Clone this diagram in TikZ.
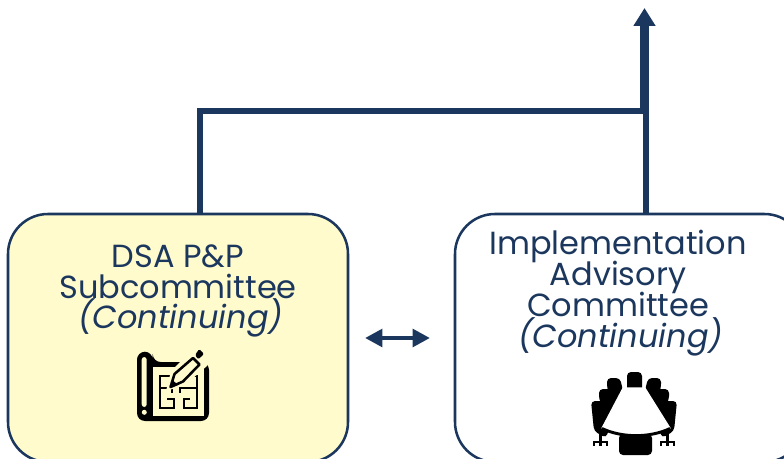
\documentclass[tikz,border=0pt]{standalone}
\usepackage{fontspec}
\setmainfont{Poppins}
\usetikzlibrary{arrows.meta}
\definecolor{navy}{HTML}{1C375E}
\definecolor{paleyellow}{HTML}{FFFBCD}
\setlength{\lineskiplimit}{-100pt}
\setlength{\normallineskiplimit}{-100pt}

\begin{document}
\begin{tikzpicture}[
x=0.75pt, y=-0.75pt,
boxnode/.style={draw=navy, rounded corners=30pt, line width=1.9pt, anchor=north west, outer sep=0pt},
labelnode/.style={text=navy, align=center, font=\fontsize{24}{23.2}\selectfont},
link/.style={draw=navy, line width=4.5pt},
planline/.style={draw=black, line width=2pt},
chair/.style={fill=black, rounded corners=3pt},
wheel/.style={draw=black, line width=1.8pt},
]
\path[use as bounding box] (0,0) rectangle (784,459);
\clip (0,0) rectangle (784,459);

% Defining the boxes
\node[boxnode, fill=paleyellow, minimum width=255pt, minimum height=186pt] (dsa) at (8,214) {};
\node[boxnode, fill=white, minimum width=262pt, minimum height=186pt] (iac) at (455,214) {};

% Defining the labels
\node[labelnode] (dsatext) at (178,291) {DSA P\&P\\Subcommittee\\\hspace*{4pt}\textit{(Continuing)}};
\node[labelnode] (iactext) at (618,293) {Implementation\\Advisory\\Committee\\\hspace*{4pt}\textit{(Continuing)}};

% Points of the connectors
\coordinate (dsatop) at (200,214);
\coordinate (iactop) at (646,214);
\coordinate (joinleft) at (200,111);
\coordinate (joinright) at (646,111);
\coordinate (shaftbase) at (644.5,113);
\coordinate (arrowend) at (644.5,8);

% Connectors
\draw[link] (dsatop) -- (joinleft) -- (joinright) -- (iactop);
\draw[navy, line width=7pt, -{Triangle[length=13.5pt, width=15.8pt]}] (shaftbase) -- (arrowend);
\draw[navy, line width=3.4pt, {Triangle[length=13pt, width=13pt]}-{Triangle[length=13pt, width=13pt]}, shorten <=17*0.75pt, shorten >=25*0.75pt] (dsa.east) -- (iac.west);

% Plan icon
\fill[black, rounded corners=6pt] (137,351.7) -- (152.7,351.7) -- (152.7,362) -- (209,362) -- (209,421) -- (137,421) -- cycle;
\fill[paleyellow] (152.7,367) -- (204,367) -- (204,416) -- (152.7,416) -- cycle;
\fill[black] (148,407) -- (152.7,407) -- (152.7,417) -- (148,417) -- cycle;
\fill[paleyellow, rounded corners=2pt] (141.7,357) -- (146.7,357) -- (146.7,407) -- (141.7,407) -- cycle;
\fill[paleyellow] (144.3,412.3) circle [radius=2.5];
\draw[planline] (172,376) -- (160,376) -- (160,408) -- (174,408) -- (174,399) -- (167,399)
  (160,388) -- (172,388) -- (172,393)
  (186,376) -- (197,376) -- (197,408) -- (184,408) -- (184,399) -- (190,399)
  (197,388) -- (180,388) -- (180,393);
\fill[paleyellow] (166,391) -- (171,371) -- (196,346) -- (208,354) -- (207,366) -- (185,385) -- cycle;
\filldraw[fill=paleyellow, draw=black, line width=1.9pt, line join=round] (170.5,387) -- (174.5,374) -- (193,358) -- (199.5,364.5) -- (183,381.5) -- cycle;
\fill[black] (170,388) -- (172.5,380) -- (178,385) -- cycle;
\fill[black, rounded corners=1pt] (195,355) -- (199.3,349) -- (204,354) -- (198.3,359.3) -- cycle;

% Table icon
\fill[chair] (627,392) -- (627,372) -- (642,372) -- (642,392) -- cycle;
\fill[chair] (607,378) -- (620,378) -- (624,395) -- (612,402) -- (607,388) -- cycle;
\fill[chair] (661,378) -- (648,378) -- (644,395) -- (656,402) -- (661,388) -- cycle;
\fill[chair] (599,389) -- (612,389) -- (620,398) -- (610,418) -- (599,400) -- cycle;
\fill[chair] (669,389) -- (656,389) -- (648,398) -- (658,418) -- (669,400) -- cycle;
\fill[chair] (591,401) -- (606,401) -- (616,408) -- (606,438) -- (594,431) -- cycle;
\fill[chair] (677,401) -- (662,401) -- (652,408) -- (662,438) -- (674,431) -- cycle;
\fill[chair] (619,434) -- (652,434) -- (652,455) -- (619,455) -- cycle;
\draw[wheel] (600.5,430) -- (600.5,442) (594,446) -- (594,442) -- (607,442) -- (607,446) (600.5,442) -- (600.5,446)
  (667.5,430) -- (667.5,442) (661,446) -- (661,442) -- (674,442) -- (674,446) (667.5,442) -- (667.5,446);
\filldraw[fill=white, draw=white, line width=0.8pt] (623,388) -- (645,388) -- (670,428) .. controls (650,438) and (622,438) .. (602,428) -- cycle;
\draw[draw=black, line width=2.2pt] (602,428.5) .. controls (622,438) and (650,438) .. (670,428.5);

\end{tikzpicture}
\end{document}
